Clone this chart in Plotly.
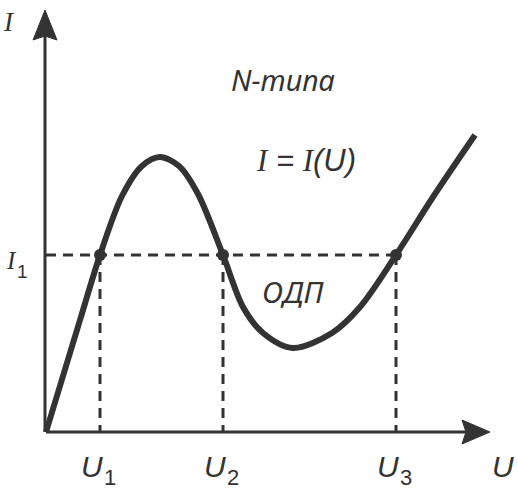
import plotly.graph_objects as go

# N-type current-voltage characteristic I = I(U)
curve_u = [0, 34, 54, 76, 96, 114, 133, 152, 177, 197, 217, 247, 286, 314, 350, 387, 429]
curve_i = [0, 112, 177, 236, 266, 275, 266, 238, 177, 125, 99, 84, 99, 125, 177, 235, 297]

# Level I1 and the three voltages where the curve crosses it
level_i1 = 177
cross_u = [54, 177, 350]
cross_names = ["1", "2", "3"]

# Axis extents (arrow tips)
u_axis_end = 444
i_axis_end = 422

INK = "#333333"

fig = go.Figure()

# Dashed guides: horizontal at I1, vertical drops to the U axis
fig.add_trace(go.Scatter(
    x=[0, max(cross_u)], y=[level_i1, level_i1], mode="lines",
    line=dict(color=INK, width=3, dash="10px,7px"), hoverinfo="skip"))
for u in cross_u:
    fig.add_trace(go.Scatter(
        x=[u, u], y=[level_i1, 0], mode="lines",
        line=dict(color=INK, width=3, dash="10px,7px"), hoverinfo="skip"))

# Axes
fig.add_trace(go.Scatter(x=[0, u_axis_end - 20], y=[0, 0], mode="lines",
                         line=dict(color=INK, width=3), hoverinfo="skip"))
fig.add_trace(go.Scatter(x=[-1, -1], y=[0, i_axis_end - 20], mode="lines",
                         line=dict(color=INK, width=3), hoverinfo="skip"))

# Characteristic curve
fig.add_trace(go.Scatter(x=curve_u, y=curve_i, mode="lines",
                         line=dict(color=INK, width=6, shape="spline", smoothing=0.9),
                         hoverinfo="skip"))

# Crossing points
fig.add_trace(go.Scatter(x=cross_u, y=[level_i1] * len(cross_u), mode="markers",
                         marker=dict(color=INK, size=12), hoverinfo="skip"))

# Arrowheads
fig.add_shape(type="path", xref="x", yref="y", fillcolor=INK, line=dict(color=INK, width=1),
              path=f"M {u_axis_end} 0 L {u_axis_end - 28} 12 L {u_axis_end - 24} 0 "
                   f"L {u_axis_end - 28} -12 Z")
fig.add_shape(type="path", xref="x", yref="y", fillcolor=INK, line=dict(color=INK, width=1),
              path=f"M -1 {i_axis_end} L -13 {i_axis_end - 30} L -1 {i_axis_end - 26} "
                   f"L 11 {i_axis_end - 30} Z")

SANS = "Liberation Sans"
SERIF = "Liberation Serif"
NOTO = "Noto Sans"


def label(x, y, text, size, family, xanchor="center", yanchor="middle"):
    fig.add_annotation(x=x, y=y, xref="x", yref="y", text=text, showarrow=False,
                       xanchor=xanchor, yanchor=yanchor,
                       font=dict(family=family, size=size, color=INK))


# Axis names
label(-37, 410, "<i>I</i>", 27, SERIF)
label(457, -34, "<i>U</i>", 30, SANS)

# I1 tick label
label(-35, 172, "<i>I</i>", 25, SERIF)
label(-24, 161, "1", 19, SANS)

# U1, U2, U3 tick labels
for u, n in zip(cross_u, cross_names):
    label(u - 8, -34, "<i>U</i>", 30, SANS)
    label(u + 10, -45, n, 22, SANS)

# Annotations in the plot
label(237, 353, "<i>N-типа</i>", 29, NOTO)
label(260, 272, f"<i><span style='font-family:{SERIF}'>I</span> = "
                f"<span style='font-family:{SERIF}'>I</span>(U)</i>", 31, SANS)
label(247, 141, "<i>ОДП</i>", 30, NOTO)

fig.update_layout(
    width=518, height=489, autosize=False,
    margin=dict(l=0, r=0, t=0, b=0),
    paper_bgcolor="white", plot_bgcolor="white",
    showlegend=False,
    xaxis=dict(range=[-46, 472], visible=False, fixedrange=True),
    yaxis=dict(range=[-57, 432], visible=False, fixedrange=True),
)

fig.write_html("out.html")
